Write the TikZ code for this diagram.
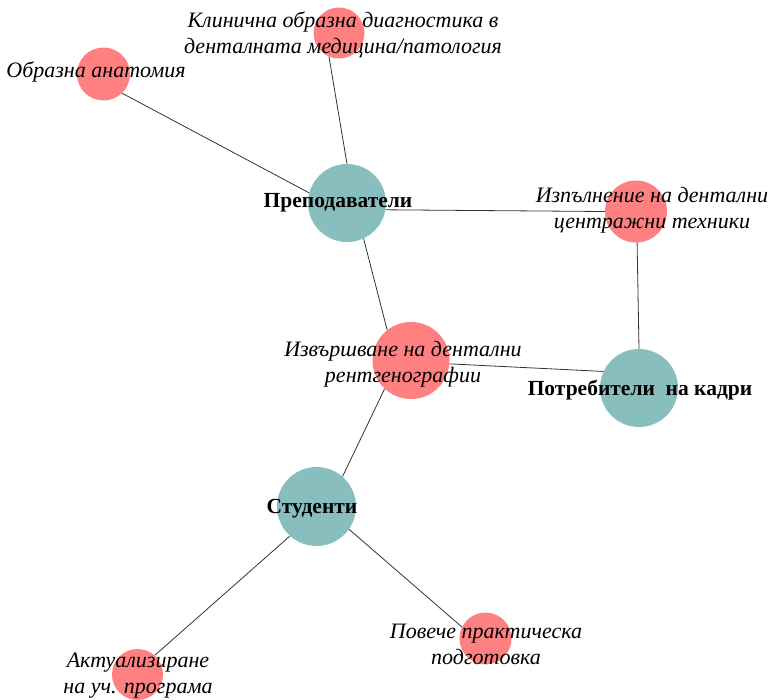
\documentclass[tikz,border=0pt]{standalone}
\usepackage{fontspec}
\setmainfont{Liberation Serif}
\usetikzlibrary{positioning}
\definecolor{topicred}{RGB}{255,128,128}
\definecolor{groupteal}{RGB}{137,190,191}

\begin{document}
\begin{tikzpicture}[x=1pt,y=-1pt,
    topic/.style={circle,fill=topicred,inner sep=0pt,minimum size=#1},
    group/.style={circle,fill=groupteal,inner sep=0pt,minimum size=#1},
    link/.style={black!80,line width=0.8pt},
    topiclabel/.style={anchor=base,align=center,font=\fontsize{22}{25.5}\selectfont\itshape},
    grouplabel/.style={anchor=base,align=center,font=\fontsize{21.5}{25.5}\selectfont\bfseries}]
    \useasboundingbox (0,0) rectangle (778,699);
        % circles
        \node[group=78pt] (prep) at (347,203) {};
        \node[group=78pt] (potr) at (639,388) {};
        \node[group=79pt] (stud) at (316.5,506.5) {};
        \node[topic=53pt] (obraz) at (103.5,74) {};
        \node[topic=51pt] (klin) at (339,33) {};
        \node[topic=62pt] (izp) at (636,211.5) {};
        \node[topic=77pt] (izv) at (411,360.5) {};
        \node[topic=51pt] (aktual) at (137.5,674.5) {};
        \node[topic=52pt] (poveche) at (485.5,638.5) {};
        % links
        \draw[link] (obraz.-46) -- (prep.165);
        \draw[link] (klin.-113) -- (prep.90);
        \draw[link] (prep.-10) -- (izp.180);
        \draw[link] (prep.-65) -- (izv.128);
        \draw[link] (izp.-88) -- (potr.90);
        \draw[link] (izv.-5) -- (potr.155);
        \draw[link] (izv.-133) -- (stud.49);
        \draw[link] (stud.-132) -- (aktual.48);
        \draw[link] (stud.-35) -- (poveche.154);
        % labels (base = last line)
        \node[topiclabel] (lklin) at (343,53) {Клинична образна диагностика в\\денталната медицина/патология};
        \node[topiclabel] (lobraz) at (96,77) {Образна анатомия};
        \node[grouplabel] (lprep) at (338,207) {Преподаватели};
        \node[topiclabel] (lizp) at (652,228) {Изпълнение на дентални\\центражни техники};
        \node[topiclabel] (lizv) at (403,382) {Извършване на дентални\\рентгенографии};
        \node[grouplabel] (lpotr) at (640,395) {Потребители\ \ на кадри};
        \node[grouplabel] (lstud) at (312,513) {Студенти};
        \node[topiclabel] (laktual) at (138,693) {Актуализиране\\на уч. програма};
        \node[topiclabel] (lpoveche) at (486,664) {Повече практическа\\подготовка};
\end{tikzpicture}
\end{document}
